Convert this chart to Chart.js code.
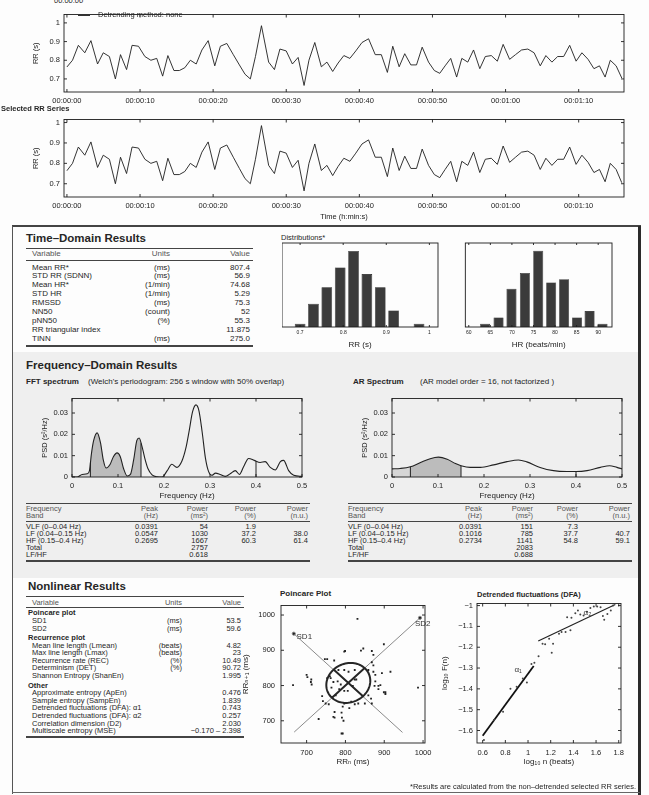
<!DOCTYPE html>
<html><head><meta charset="utf-8">
<script src="https://cdn.jsdelivr.net/npm/chart.js@4.4.1/dist/chart.umd.min.js"></script>
<style>
html,body{margin:0;padding:0;background:#fff}
#page{position:relative;width:649px;height:795px;overflow:hidden;background:#fdfdfd;font-family:"Liberation Sans",Arial,"DejaVu Sans",sans-serif;color:#262626}
#page canvas{position:absolute}
.t{position:absolute;white-space:nowrap;line-height:1}
.ln{position:absolute}
</style></head><body><div id="page"></div>
<script>
const $ = s => document.querySelector(s);
const page = $('#page');
const FONT = '"Liberation Sans", Arial, "DejaVu Sans", sans-serif';
Chart.defaults.font.family = FONT;
Chart.defaults.color = '#222';

// ---- data ----
const rrValues = [0.764,0.80,0.88,0.84,0.905,0.78,0.84,0.82,0.70,0.83,0.75,0.88,0.875,0.82,0.80,0.81,0.715,0.825,0.745,0.745,
  0.76,0.80,0.78,0.855,0.905,0.77,0.875,0.89,0.83,0.775,0.725,0.70,0.82,0.985,0.79,0.75,0.86,0.85,0.78,0.815,
  0.665,0.80,0.895,0.765,0.79,0.74,0.785,0.825,0.81,0.85,0.895,0.915,0.83,0.83,0.735,0.875,0.765,0.835,0.775,0.775,
  0.87,0.79,0.745,0.73,0.77,0.81,0.71,0.81,0.79,0.855,0.755,0.82,0.825,0.795,0.885,0.805,0.83,0.855,0.86,0.84,
  0.77,0.825,0.79,0.82,0.82,0.88,0.795,0.84,0.805,0.755,0.77,0.71,0.80,0.77,0.705];
const rrTickSec = [0, 10, 20, 30, 40, 50, 60, 70];
const rrTickLabels = ['00:00:00','00:00:10','00:00:20','00:00:30','00:00:40','00:00:50','00:01:00','00:01:10'];
const rrYTicks = [0.7, 0.8, 0.9, 1];
const rrYLabels = ['0.7', '0.8', '0.9', '1'];

const histRRBins = [0.700, 0.731, 0.762, 0.793, 0.824, 0.855, 0.886, 0.917, 0.976];
const histRRCounts = [1, 7, 12, 18, 23, 16, 12, 5, 1];
const histRRTicks = [0.7, 0.8, 0.9, 1];
const histRRLabels = ['0.7', '0.8', '0.9', '1'];
const histHRBins = [63.8, 66.9, 69.9, 73.0, 76.1, 79.1, 82.1, 85.1, 88.0, 91.0];
const histHRCounts = [1, 3, 12, 17, 24, 14, 15, 3, 5, 1];
const histHRTicks = [60, 65, 70, 75, 80, 85, 90];
const histHRLabels = ['60', '65', '70', '75', '80', '85', '90'];

const fftFreq = [0,0.011,0.022,0.033,0.038,0.042,0.047,0.0547,0.062,0.068,0.074,0.083,0.09,0.098,0.105,0.112,0.12,0.127,0.134,0.141,
  0.146,0.152,0.158,0.165,0.174,0.185,0.196,0.207,0.217,0.228,0.239,0.248,0.255,0.262,0.2695,0.276,0.283,0.29,0.297,0.304,
  0.312,0.322,0.333,0.344,0.355,0.364,0.373,0.384,0.396,0.409,0.42,0.431,0.442,0.453,0.46,0.471,0.482,0.5];
const fftPsd = [0,0,0.0012,0.0015,0.003,0.0105,0.017,0.0207,0.016,0.008,0.0042,0.006,0.0095,0.0113,0.0095,0.004,0.0005,0.0012,0.008,0.0172,
  0.0183,0.0145,0.009,0.004,0.001,0.0001,0,0.003,0.006,0.0045,0.0075,0.014,0.022,0.0305,0.0338,0.031,0.021,0.009,0.0025,0.0008,
  0.0018,0.0012,0.0003,0.0015,0.003,0.0012,0.0048,0.0087,0.0078,0.0068,0.0072,0.0045,0.0033,0.0072,0.0078,0.003,0.0008,0.0003];
const arFreq = [0,0.018,0.04,0.062,0.083,0.101,0.12,0.138,0.15,0.17,0.192,0.221,0.25,0.275,0.293,0.322,0.351,0.38,0.4,0.424,0.453,0.473,0.489,0.5];
const arPsd = [0.0038,0.004,0.0048,0.0068,0.0086,0.0093,0.0083,0.0063,0.0053,0.0045,0.0045,0.0057,0.0072,0.008,0.0071,0.0045,0.003,0.0026,0.0026,0.003,0.0045,0.0053,0.0045,0.0038];
const freqTicks = [0, 0.1, 0.2, 0.3, 0.4, 0.5];
const freqLabels = ['0', '0.1', '0.2', '0.3', '0.4', '0.5'];
const psdTicks = [0, 0.01, 0.02, 0.03];
const psdLabels = ['0', '0.01', '0.02', '0.03'];

const poincareRRn = [665,700,702,712,713,711,740,742,731,769,772,772,790,793,790,795,831,799,840,846,868,872,899,797,747,753,771,760,753,762,
  782,797,808,824,780,788,824,828,868,872,859,872,877,877,875,885,890,894,916,903,903,885,859,850,833,824,815,797,810,775,
  764,769,784,797,806,819,987,899,866,868,766,749,757,791,793];
const poincareRRn1 = [801,830,824,817,803,810,770,756,705,711,709,725,723,740,664,700,989,898,899,905,898,887,917,896,875,875,871,826,821,821,
  844,844,839,844,812,803,817,817,866,857,844,839,830,812,799,799,801,835,839,776,781,790,772,749,749,747,754,749,736,772,
  794,810,790,785,785,799,794,781,763,749,767,749,747,709,664];
const sd2Line = [{ x: 668, y: 668 }, { x: 992, y: 992 }];
const sd1Line = [{ x: 667, y: 947 }, { x: 947, y: 667 }];
const meanRR = 807.4, SD1 = 53.5, SD2 = 59.6;
const poincareTicks = [700, 800, 900, 1000];
const poincareLabels = ['700', '800', '900', '1000'];

const dfaLogN = [0.611,0.70,0.78,0.845,0.90,0.954,0.99,1.03,1.056,1.093,1.128,1.151,1.186,1.209,1.221,1.273,1.296,1.331,1.345,1.374,
  1.383,1.417,1.44,1.461,1.49,1.519,1.55,1.58,1.61,1.64,1.66,1.672,1.70,1.73,1.75];
const dfaLogF = [-1.646,-1.55,-1.51,-1.40,-1.39,-1.35,-1.37,-1.28,-1.275,-1.243,-1.183,-1.186,-1.159,-1.227,-1.183,-1.135,-1.127,-1.127,-1.056,-1.119,
  -1.059,-1.037,-1.024,-1.043,-1.048,-1.03,-1.012,-1.005,-1.005,-1.008,-1.05,-1.068,-1.04,-1.024,-1.0];
const alpha1Line = [{ x: 0.6, y: -1.625 }, { x: 1.05, y: -1.29 }];
const alpha2Line = [{ x: 1.09, y: -1.17 }, { x: 1.77, y: -0.995 }];
const dfaXTicks = [0.6, 0.8, 1, 1.2, 1.4, 1.6, 1.8];
const dfaXLabels = ['0.6', '0.8', '1', '1.2', '1.4', '1.6', '1.8'];
const dfaYTicks = [-1.6, -1.5, -1.4, -1.3, -1.2, -1.1, -1];
const dfaYLabels = ['−1.6', '−1.5', '−1.4', '−1.3', '−1.2', '−1.1', '−1'];

const timeRows = [
  ['Mean RR*', '(ms)', '807.4'], ['STD RR (SDNN)', '(ms)', '56.9'], ['Mean HR*', '(1/min)', '74.68'],
  ['STD HR', '(1/min)', '5.29'], ['RMSSD', '(ms)', '75.3'], ['NN50', '(count)', '52'],
  ['pNN50', '(%)', '55.3'], ['RR triangular index', '', '11.875'], ['TINN', '(ms)', '275.0'],
];
const freqHead = [['Frequency', 'Band'], ['Peak', '(Hz)'], ['Power', '(ms²)'], ['Power', '(%)'], ['Power', '(n.u.)']];
const fftRows = [
  ['VLF (0–0.04 Hz)', '0.0391', '54', '1.9', ''], ['LF (0.04–0.15 Hz)', '0.0547', '1030', '37.2', '38.0'],
  ['HF (0.15–0.4 Hz)', '0.2695', '1667', '60.3', '61.4'], ['Total', '', '2757', '', ''], ['LF/HF', '', '0.618', '', ''],
];
const arRows = [
  ['VLF (0–0.04 Hz)', '0.0391', '151', '7.3', ''], ['LF (0.04–0.15 Hz)', '0.1016', '785', '37.7', '40.7'],
  ['HF (0.15–0.4 Hz)', '0.2734', '1141', '54.8', '59.1'], ['Total', '', '2083', '', ''], ['LF/HF', '', '0.688', '', ''],
];
const nlRows = [
  ['h', 'Poincare plot'], ['', 'SD1', '(ms)', '53.5'], ['', 'SD2', '(ms)', '59.6'],
  ['h', 'Recurrence plot'], ['', 'Mean line length (Lmean)', '(beats)', '4.82'], ['', 'Max line length (Lmax)', '(beats)', '23'],
  ['', 'Recurrence rate (REC)', '(%)', '10.49'], ['', 'Determinism (DET)', '(%)', '90.72'], ['', 'Shannon Entropy (ShanEn)', '', '1.995'],
  ['h', 'Other'], ['', 'Approximate entropy (ApEn)', '', '0.476'], ['', 'Sample entropy (SampEn)', '', '1.839'],
  ['', 'Detrended fluctuations (DFA): α1', '', '0.743'], ['', 'Detrended fluctuations (DFA): α2', '', '0.257'],
  ['', 'Correlation dimension (D2)', '', '2.030'], ['', 'Multiscale entropy (MSE)', '', '−0.170 – 2.398'],
];

// ---- page helpers ----
function txt(x, y, s, o = {}) {
  const d = document.createElement('div');
  d.className = 't'; d.innerHTML = s;
  d.style.left = x + 'px'; d.style.top = y + 'px';
  d.style.fontSize = (o.f || 8) + 'px';
  if (o.b) d.style.fontWeight = 'bold';
  if (o.c) d.style.color = o.c;
  const tx = o.a === 'r' ? '-100%' : o.a === 'c' ? '-50%' : '0';
  d.style.transform = `translate(${tx},-50%)`;
  page.appendChild(d);
}
function rect(x, y, w, h, c) {
  const d = document.createElement('div');
  d.className = 'ln';
  Object.assign(d.style, { left: x + 'px', top: y + 'px', width: w + 'px', height: h + 'px', background: c });
  page.appendChild(d);
}
const hl = (x1, x2, y, w = 1, c = '#333') => rect(x1, y - w / 2, x2 - x1, w, c);

// ---- chart plugins ----
const mbox = {
  id: 'mbox',
  afterDraw(ch, args, o) {
    const { ctx, chartArea: a } = ch, tl = o.tick ?? 3;
    ctx.save();
    ctx.strokeStyle = '#1c1c1c'; ctx.lineWidth = 0.9;
    ctx.strokeRect(a.left, a.top, a.right - a.left, a.bottom - a.top);
    ctx.beginPath();
    const sx = ch.scales.x, sy = ch.scales.y;
    sx.ticks.forEach(t => { const p = sx.getPixelForValue(t.value); ctx.moveTo(p, a.bottom); ctx.lineTo(p, a.bottom - tl); ctx.moveTo(p, a.top); ctx.lineTo(p, a.top + tl); });
    if (sy.options.display !== false) sy.ticks.forEach(t => { const p = sy.getPixelForValue(t.value); ctx.moveTo(a.left, p); ctx.lineTo(a.left + tl, p); ctx.moveTo(a.right, p); ctx.lineTo(a.right - tl, p); });
    ctx.stroke();
    ctx.restore();
  }
};
Chart.register(mbox);

// shade frequency bands under dataset 0 and mark band edges
const bands = {
  id: 'bands',
  beforeDatasetsDraw(ch, args, o) {
    if (!o.fills) return;
    const pts = ch.getDatasetMeta(0).data, ctx = ch.ctx, sx = ch.scales.x, base = ch.scales.y.getPixelForValue(0), ar = ch.chartArea;
    for (const f of o.fills) {
      const x0 = sx.getPixelForValue(f[0]), x1 = sx.getPixelForValue(f[1]);
      ctx.save();
      ctx.beginPath(); ctx.rect(x0, ar.top, x1 - x0, ar.bottom - ar.top); ctx.clip();
      ctx.beginPath(); ctx.moveTo(pts[0].x, base); ctx.lineTo(pts[0].x, pts[0].y);
      for (let i = 1; i < pts.length; i++) {
        const p = pts[i - 1], q = pts[i];
        if (p.cp2x !== undefined) ctx.bezierCurveTo(p.cp2x, p.cp2y, q.cp1x, q.cp1y, q.x, q.y); else ctx.lineTo(q.x, q.y);
      }
      ctx.lineTo(pts[pts.length - 1].x, base); ctx.closePath();
      ctx.fillStyle = f[2]; ctx.fill();
      ctx.restore();
    }
  },
  afterDatasetsDraw(ch, args, o) {
    if (!o.edges) return;
    const pts = ch.getDatasetMeta(0).data, ctx = ch.ctx, sx = ch.scales.x, base = ch.scales.y.getPixelForValue(0);
    ctx.save(); ctx.strokeStyle = '#222'; ctx.lineWidth = 1; ctx.beginPath();
    for (const e of o.edges) {
      const px = sx.getPixelForValue(e);
      const i = pts.findIndex(p => p.x >= px);
      const p = pts[Math.max(0, i - 1)], q = pts[i];
      const py = q.x === p.x ? q.y : p.y + (q.y - p.y) * (px - p.x) / (q.x - p.x);
      ctx.moveTo(px, base); ctx.lineTo(px, py);
    }
    ctx.stroke(); ctx.restore();
  }
};

const poincareDeco = {
  id: 'poincareDeco',
  afterDatasetsDraw(ch) {
    const { ctx } = ch, X = ch.scales.x, Y = ch.scales.y, r = Math.SQRT1_2, c = meanRR;
    const px = (x, y) => [X.getPixelForValue(x), Y.getPixelForValue(y)];
    ctx.save();
    ctx.strokeStyle = '#262626'; ctx.lineWidth = 2;
    ctx.beginPath();
    for (let k = 0; k <= 90; k++) {
      const th = k / 90 * 2 * Math.PI, u = SD2 * Math.cos(th), v = SD1 * Math.sin(th);
      const [a, b] = px(c + (u - v) * r, c + (u + v) * r);
      k ? ctx.lineTo(a, b) : ctx.moveTo(a, b);
    }
    ctx.closePath(); ctx.stroke();
    ctx.beginPath();
    let [a, b] = px(c - SD2 * r, c - SD2 * r); ctx.moveTo(a, b);
    [a, b] = px(c + SD2 * r, c + SD2 * r); ctx.lineTo(a, b);
    [a, b] = px(c - SD1 * r, c + SD1 * r); ctx.moveTo(a, b);
    [a, b] = px(c + SD1 * r, c - SD1 * r); ctx.lineTo(a, b);
    ctx.stroke();
    ctx.fillStyle = '#333'; ctx.font = '8px ' + FONT; ctx.textBaseline = 'middle';
    [a, b] = px(674, 938); ctx.fillText('SD1', a, b);
    [a, b] = px(979, 975); ctx.fillText('SD2', a, b);
    ctx.restore();
  }
};

const dfaDeco = {
  id: 'dfaDeco',
  afterDatasetsDraw(ch) {
    const { ctx } = ch, X = ch.scales.x, Y = ch.scales.y;
    ctx.save(); ctx.fillStyle = '#333'; ctx.font = '8px ' + FONT; ctx.textBaseline = 'middle';
    ctx.fillText('α₁', X.getPixelForValue(0.88), Y.getPixelForValue(-1.31));
    ctx.fillText('α₂', X.getPixelForValue(1.49), Y.getPixelForValue(-1.035));
    ctx.restore();
  }
};

// ---- chart helpers ----
function ax(min, max, vals, labels, o = {}) {
  return {
    type: 'linear', min, max, offset: false, display: o.display ?? true,
    grid: { display: false, drawTicks: false }, border: { display: false },
    afterBuildTicks: s => { s.ticks = vals.map(v => ({ value: v })); },
    ticks: { autoSkip: false, maxRotation: 0, padding: o.pad ?? 3, font: { size: o.fs ?? 7.5 }, color: '#222', callback: (v, i) => labels[i] },
    title: o.title ? { display: true, text: o.title, font: { size: o.tfs ?? 7.5 }, color: '#222', padding: o.tpad ?? { top: 0, bottom: 1 } } : { display: false },
  };
}

function mk(L, T, W, H, m, cfg) {
  const c = document.createElement('canvas');
  const yw = m.yw || 0, xh = m.xh || 0, pt = m.pt ?? 5, pr = m.pr ?? 12;
  c.width = yw + W + pr; c.height = pt + H + xh;
  c.style.left = (L - yw) + 'px'; c.style.top = (T - pt) + 'px';
  page.appendChild(c);
  const op = cfg.options;
  op.responsive = false; op.animation = false; op.devicePixelRatio = 1;
  op.layout = { padding: { top: pt, right: pr, left: 0, bottom: 0 } };
  op.plugins = Object.assign({ legend: { display: false }, tooltip: { enabled: false } }, op.plugins);
  op.scales.x.afterFit = s => { s.height = xh; };
  op.scales.y.afterFit = s => { s.width = yw; };
  return new Chart(c, cfg);
}

// ---- frame and section backgrounds ----
rect(12, 352, 626, 226, '#efefef');
hl(12, 641, 226, 1.2, '#444');
rect(12, 226, 1, 568, '#555');
rect(638, 226, 2.6, 569, '#2b2b2b');
hl(12, 640, 792.5, 1, '#666');

// ---- RR series ----
const rrTimes = [];
rrValues.reduce((t, v) => { rrTimes.push(t); return t + v; }, 0);
const rrPoints = rrTimes.map((t, i) => ({ x: t, y: rrValues[i] }));

function rrChart(L, T, yMin, yMax, xh, xTitle) {
  return mk(L, T, 560, 82, { yw: 34, xh, pt: 4, pr: 14 }, {
    type: 'line',
    data: { datasets: [{ data: rrPoints, borderColor: '#1e1e1e', borderWidth: 0.9, pointRadius: 0, tension: 0, fill: false }] },
    options: {
      scales: {
        x: ax(-0.4, 76.2, rrTickSec, rrTickLabels, { pad: 4, title: xTitle, tpad: { top: 0, bottom: 2 } }),
        y: ax(yMin, yMax, rrYTicks, rrYLabels, { pad: 4, title: 'RR (s)', tpad: { top: 1, bottom: 0 } }),
      },
    },
  });
}
txt(54, 1, '00:00:00', { f: 7.5 });
rrChart(64, 10, 0.63, 1.045, 14, null);
hl(78, 90, 15, 0.9, '#333');
txt(98, 15, 'Detrending method: none', { f: 7.5 });
txt(1, 108.5, 'Selected RR Series', { f: 7.5, b: 1 });
rrChart(64, 115, 0.635, 1.015, 26, 'Time (h:min:s)');

// ---- Time-domain ----
txt(26, 239, 'Time–Domain Results', { f: 11.5, b: 1 });
hl(26, 253, 248, 1, '#444');
txt(32, 254, 'Variable', { c: '#555' }); txt(170, 254, 'Units', { a: 'r', c: '#555' }); txt(250, 254, 'Value', { a: 'r', c: '#555' });
hl(26, 253, 260.5, 1, '#444');
timeRows.forEach((r, i) => {
  const y = 267.5 + i * 8.9;
  txt(32, y, r[0]); txt(170, y, r[1], { a: 'r' }); txt(250, y, r[2], { a: 'r' });
});
hl(26, 253, 346, 1.2, '#444');

// ---- distributions ----
txt(281, 237.5, 'Distributions*', { f: 7.5 });
function hist(L, W, bins, counts, ticks, labels, xMin, xMax, yMax, title) {
  return mk(L, 243, W, 84, { yw: 0, xh: 24, pt: 2, pr: 8 }, {
    type: 'bar',
    data: { datasets: [{ data: bins.map((b, i) => ({ x: b, y: counts[i] })), backgroundColor: '#3b3b3b', borderColor: '#111', borderWidth: 0.6, barPercentage: 0.8, categoryPercentage: 1 }] },
    options: {
      scales: {
        x: ax(xMin, xMax, ticks, labels, { fs: 5, pad: 3, title, tfs: 8, tpad: { top: 0, bottom: 1 } }),
        y: { type: 'linear', min: 0, max: yMax, display: false },
      },
      plugins: { mbox: { tick: 2 } },
    },
  });
}
hist(282, 156, histRRBins, histRRCounts, histRRTicks, histRRLabels, 0.658, 1.02, 25.4, 'RR (s)');
hist(463, 149, histHRBins, histHRCounts, histHRTicks, histHRLabels, 59.2, 93.2, 26.4, 'HR (beats/min)');

// ---- Frequency-domain ----
txt(26, 366, 'Frequency–Domain Results', { f: 11.5, b: 1 });
txt(26, 381.5, 'FFT spectrum', { b: 1 });
txt(88, 381.5, '(Welch\'s periodogram: 256 s window with 50% overlap)');
txt(353, 381.5, 'AR Spectrum', { b: 1 });
txt(420, 381.5, '(AR model order = 16, not factorized )');

function spectrum(L, freq, psd, fills) {
  return mk(L, 395, 230, 82, { yw: 34, xh: 24, pt: 5, pr: 10 }, {
    type: 'line',
    data: { datasets: [{ data: freq.map((f, i) => ({ x: f, y: psd[i] })), borderColor: '#222', borderWidth: 1.1, pointRadius: 0, cubicInterpolationMode: 'monotone', fill: false }] },
    options: {
      scales: {
        x: ax(0, 0.5, freqTicks, freqLabels, { pad: 4, title: 'Frequency (Hz)', tfs: 8, tpad: { top: 0, bottom: 0 } }),
        y: ax(0, 0.0368, psdTicks, psdLabels, { pad: 4, title: 'PSD (s²/Hz)', tpad: { top: 2, bottom: 0 } }),
      },
      plugins: { bands: { fills, edges: [0.04, 0.15, 0.4] } },
    },
    plugins: [bands],
  });
}
spectrum(72, fftFreq, fftPsd, [[0, 0.04, '#d6d6d6'], [0.04, 0.15, '#bcbcbc']]);
spectrum(392, arFreq, arPsd, [[0, 0.04, '#d6d6d6'], [0.04, 0.15, '#bcbcbc']]);

function freqTable(x0, cols, rows) {
  hl(x0, cols[4] + 2, 503, 1, '#444');
  freqHead.forEach((h, j) => {
    const o = { f: 7.5, c: '#555', a: j ? 'r' : undefined };
    const x = j ? cols[j] : x0;
    txt(x, 509, h[0], o); txt(x, 516, h[1], o);
  });
  hl(x0, cols[4] + 2, 521, 1, '#444');
  rows.forEach((r, i) => {
    const y = 527 + i * 7;
    txt(x0, y, r[0], { f: 7.5 });
    for (let j = 1; j < 5; j++) if (r[j]) txt(cols[j], y, r[j], { f: 7.5, a: 'r' });
  });
  hl(x0, cols[4] + 2, 561, 1.2, '#444');
}
freqTable(26, [0, 158, 208, 256, 308], fftRows);
freqTable(348, [0, 482, 533, 578, 630], arRows);

// ---- Nonlinear ----
txt(28, 587, 'Nonlinear Results', { f: 11.5, b: 1 });
hl(26, 244, 596.5, 1, '#444');
txt(32, 602.5, 'Variable', { f: 7.5, c: '#555' }); txt(182, 602.5, 'Units', { f: 7.5, a: 'r', c: '#555' }); txt(241, 602.5, 'Value', { f: 7.5, a: 'r', c: '#555' });
hl(26, 244, 607.5, 1, '#444');
let ny = 613.3;
nlRows.forEach((r, i) => {
  if (i) ny += r[0] === 'h' ? 9.5 : 7.6;
  if (r[0] === 'h') { txt(28, ny, r[1], { f: 7.5, b: 1 }); return; }
  txt(32, ny, r[1], { f: 7.5 });
  if (r[2]) txt(182, ny, r[2], { f: 7.5, a: 'r' });
  txt(241, ny, r[3], { f: 7.5, a: 'r' });
});
hl(26, 244, 737, 1.2, '#444');

// ---- Poincare ----
txt(280, 594, 'Poincare Plot', { f: 8, b: 1 });
mk(281, 599, 144, 144, { yw: 40, xh: 26, pt: 4, pr: 14 }, {
  type: 'scatter',
  data: {
    datasets: [
      { data: poincareRRn.map((v, i) => ({ x: v, y: poincareRRn1[i] })), pointStyle: 'rect', pointRadius: 1.3, backgroundColor: '#222', borderWidth: 0 },
      { data: sd2Line, showLine: true, borderColor: '#8a8a8a', borderWidth: 1, pointRadius: [0, 1.6], backgroundColor: '#222' },
      { data: sd1Line, showLine: true, borderColor: '#8a8a8a', borderWidth: 1, pointRadius: [1.6, 0], backgroundColor: '#222' },
    ],
  },
  options: {
    scales: {
      x: ax(634, 1005, poincareTicks, poincareLabels, { pad: 5, title: 'RRₙ (ms)', tfs: 8, tpad: { top: 0, bottom: 2 } }),
      y: ax(637, 1027, poincareTicks, poincareLabels, { pad: 6, title: 'RRₙ₊₁ (ms)', tfs: 8, tpad: { top: 0, bottom: 0 } }),
    },
  },
  plugins: [poincareDeco],
});

// ---- DFA ----
txt(477, 595, 'Detrended fluctuations (DFA)', { f: 7.5, b: 1 });
mk(477, 600, 144, 143, { yw: 40, xh: 26, pt: 5, pr: 12 }, {
  type: 'scatter',
  data: {
    datasets: [
      { data: dfaLogN.map((v, i) => ({ x: v, y: dfaLogF[i] })), pointRadius: 1, backgroundColor: '#444', borderWidth: 0 },
      { data: alpha1Line, showLine: true, borderColor: '#111', borderWidth: 1.8, pointRadius: 0 },
      { data: alpha2Line, showLine: true, borderColor: '#222', borderWidth: 1.2, pointRadius: 0 },
    ],
  },
  options: {
    scales: {
      x: ax(0.55, 1.82, dfaXTicks, dfaXLabels, { pad: 5, title: 'log₁₀ n (beats)', tfs: 8, tpad: { top: 0, bottom: 2 } }),
      y: ax(-1.66, -0.99, dfaYTicks, dfaYLabels, { pad: 4, title: 'log₁₀ F(n)', tfs: 8, tpad: { top: 3, bottom: 0 } }),
    },
  },
  plugins: [dfaDeco],
});

txt(636, 786.5, '*Results are calculated from the non–detrended selected RR series.', { f: 7.5, a: 'r' });
</script></body></html>
